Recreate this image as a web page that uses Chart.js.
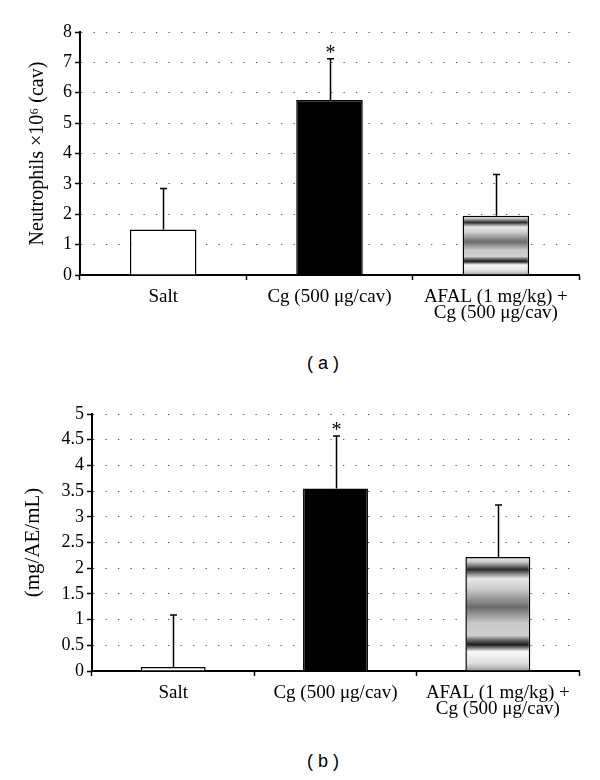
<!DOCTYPE html>
<html>
<head>
<meta charset="utf-8">
<script src="https://cdn.jsdelivr.net/npm/chart.js@4"></script>
<style>
  body { margin: 0; background: #fff; width: 600px; height: 780px; position: relative; overflow: hidden; }
  .box { position: absolute; left: 0; width: 600px; }
  .cap { position: absolute; left: 0; width: 646px; text-align: center; font: 18px "Liberation Sans", Arial, sans-serif; color: #000; }
</style>
</head>
<body>
<div class="box" style="top:0;height:340px"><canvas id="chartA" width="600" height="340"></canvas></div>
<div class="cap" style="top:353px">( a )</div>
<div class="box" style="top:390px;height:345px"><canvas id="chartB" width="600" height="345"></canvas></div>
<div class="cap" style="top:751px">( b )</div>
<script>
const categories = ['Salt', 'Cg (500 μg/cav)', ['AFAL (1 mg/kg) +', 'Cg (500 μg/cav)']];

// (a) neutrophils
const neutrophilValues = [1.5, 5.76, 1.95];
const neutrophilErrors = [1.35, 1.36, 1.36];
const neutrophilStars = ['', '*', ''];
const neutrophilTicks = [0, 1, 2, 3, 4, 5, 6, 7, 8];

// (b) mg/AE/mL
const aeValues = [0.08, 3.55, 2.22];
const aeErrors = [1.01, 1.02, 1.01];
const aeStars = ['', '*', ''];
const aeTicks = [0, 0.5, 1, 1.5, 2, 2.5, 3, 3.5, 4, 4.5, 5];

const serif = '"Liberation Serif", "Times New Roman", serif';

// banded grey fill for the AFAL bar
const bandFill = (context) => {
    const chart = context.chart;
    if (!chart.chartArea) return '#ccc';
    const y = chart.scales.y;
    const v = context.raw;
    const top = y.getPixelForValue(v);
    const base = y.getPixelForValue(0);
    const g = chart.ctx.createLinearGradient(0, top, 0, base);
    g.addColorStop(0.00, '#f2f2f2');
    g.addColorStop(0.04, '#cfcfcf');
    g.addColorStop(0.08, '#777');
    g.addColorStop(0.11, '#2a2a2a');
    g.addColorStop(0.15, '#888');
    g.addColorStop(0.19, '#e8e8e8');
    g.addColorStop(0.28, '#cdcdcd');
    g.addColorStop(0.44, '#6a6a6a');
    g.addColorStop(0.58, '#c8c8c8');
    g.addColorStop(0.69, '#cfcfcf');
    g.addColorStop(0.73, '#666');
    g.addColorStop(0.77, '#1e1e1e');
    g.addColorStop(0.80, '#888');
    g.addColorStop(0.83, '#f8f8f8');
    g.addColorStop(0.93, '#e0e0e0');
    g.addColorStop(1.00, '#9a9a9a');
    return g;
};

// error bars (upper only) and significance marks
const errorBarPlugin = {
    id: 'errorBars',
    afterDatasetsDraw(chart, args, opts) {
        const ctx = chart.ctx;
        const meta = chart.getDatasetMeta(0);
        const y = chart.scales.y;
        ctx.save();
        ctx.strokeStyle = '#000';
        ctx.lineWidth = 1.5;
        meta.data.forEach((bar, i) => {
            const v = chart.data.datasets[0].data[i];
            const top = y.getPixelForValue(v + opts.errors[i]);
            const x = Math.round(bar.x) + 0.5;
            ctx.beginPath();
            ctx.moveTo(x, bar.y);
            ctx.lineTo(x, top);
            ctx.moveTo(x - 3.5, top);
            ctx.lineTo(x + 3.5, top);
            ctx.stroke();
            if (opts.stars[i]) {
                ctx.fillStyle = '#000';
                ctx.font = '20px ' + serif;
                ctx.textAlign = 'center';
                ctx.textBaseline = 'bottom';
                ctx.fillText(opts.stars[i], x, top + 5);
            }
        });
        ctx.restore();
    }
};

const makeChart = (id, values, errors, stars, ticks, title, g) => {
    return new Chart(document.getElementById(id), {
        type: 'bar',
        data: {
            labels: categories,
            datasets: [{
                data: values,
                backgroundColor: (c) => c.dataIndex === 0 ? '#fff' : c.dataIndex === 1 ? '#000' : bandFill(c),
                borderColor: '#000',
                borderWidth: 1.5,
                categoryPercentage: 1,
                barPercentage: 0.4
            }]
        },
        options: {
            responsive: false,
            animation: false,
            layout: { padding: { left: 0, right: g.right, top: g.top, bottom: 0 } },
            plugins: {
                legend: { display: false },
                tooltip: { enabled: false },
                errorBars: { errors: errors, stars: stars }
            },
            scales: {
                x: {
                    afterFit: (s) => { s.height = g.xHeight; },
                    grid: { display: true, drawOnChartArea: false, offset: true, tickLength: 5, tickColor: '#000', tickWidth: 1.5 },
                    border: { color: '#000', width: 2 },
                    ticks: { color: '#000', padding: 9, font: { family: serif, size: 19, lineHeight: 0.85 } }
                },
                y: {
                    min: ticks[0],
                    max: ticks[ticks.length - 1],
                    afterFit: (s) => { s.width = g.yWidth; },
                    afterBuildTicks: (s) => { s.ticks = ticks.map(v => ({ value: v })); },
                    grid: { color: '#555', lineWidth: 1, tickLength: 5, tickColor: '#000', tickWidth: 1.5, tickBorderDash: [] },
                    border: { color: '#000', width: 2, dash: [1.3, 11.2] },
                    ticks: { color: '#000', padding: 3, font: { family: serif, size: 18 }, callback: (v) => String(v) },
                    title: { display: true, text: title, color: '#000', font: { family: serif, size: g.titleSize }, padding: { top: g.titlePad, bottom: 0 } }
                }
            }
        },
        plugins: [errorBarPlugin]
    });
};

makeChart('chartA', neutrophilValues, neutrophilErrors, neutrophilStars, neutrophilTicks,
    'Neutrophils ×10⁶ (cav)', { right: 21, top: 32, xHeight: 65, yWidth: 80, titlePad: 26, titleSize: 20 });
makeChart('chartB', aeValues, aeErrors, aeStars, aeTicks,
    '(mg/AE/mL)', { right: 21, top: 24, xHeight: 64, yWidth: 92, titlePad: 21, titleSize: 21 });
</script>
</body>
</html>
